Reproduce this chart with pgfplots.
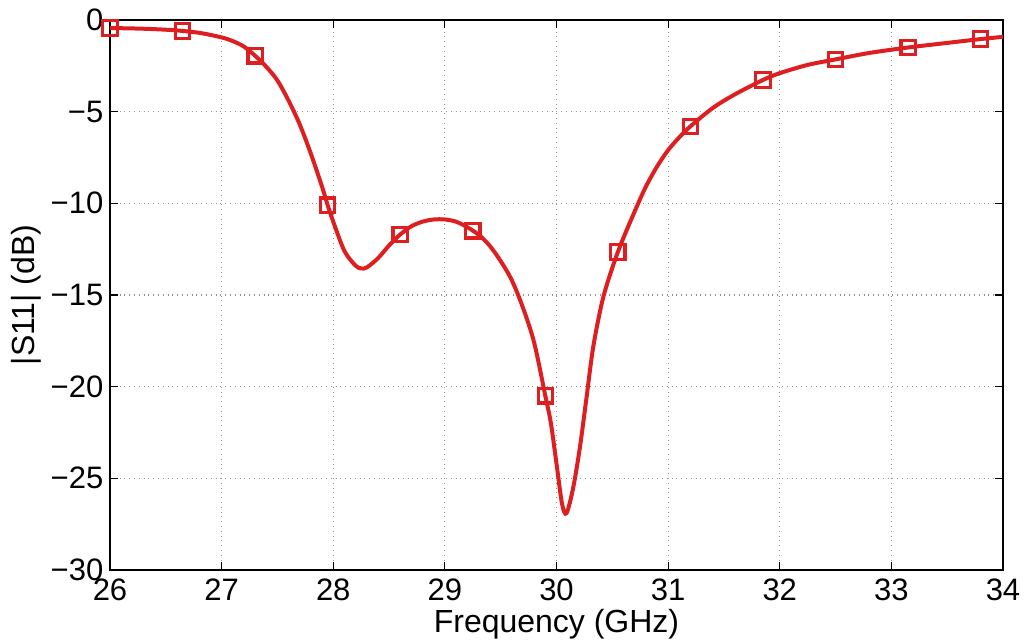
\documentclass[border=0pt]{standalone}
\usepackage{pgfplots}
\pgfplotsset{compat=1.18}
\usepackage{fontspec}
\setmainfont{Liberation Sans}
\definecolor{sred}{rgb}{0.87,0.12,0.13}
\begin{document}
\fontsize{15.5}{18}\selectfont
\begin{tikzpicture}
\path[use as bounding box] (-55pt,-35.5pt) rectangle (457pt,285pt);
\begin{axis}[
  scale only axis,
  width=446.5pt, height=275pt,
  xmin=26, xmax=34, ymin=-30, ymax=0,
  xtick={26,27,...,34}, ytick={-30,-25,...,0},
  yticklabels={−30,−25,−20,−15,−10,−5,0},
  tick align=inside,
  major tick length=4pt,
  grid=major,
  major grid style={dotted, gray!85, line width=0.6pt},
  axis line style={black, line width=0.6pt},
  every tick/.style={black, line width=0.6pt},
  /pgf/number format/assume math mode=true,
  ticklabel style={font=\fontsize{15.5}{18}\selectfont},
  xticklabel style={yshift=1pt},
  yticklabel style={xshift=2pt},
  xlabel={Frequency (GHz)},
  ylabel={|S11| (dB)},
  label style={font=\fontsize{16}{18}\selectfont},
  xlabel style={yshift=6pt},
  ylabel style={yshift=-6pt},
]
\addplot[sred, line width=2pt, smooth, tension=0.5] coordinates {
(26.0,-0.44) (26.2,-0.46) (26.4,-0.5) (26.6,-0.57) (26.8,-0.7) (27.0,-0.95)
(27.1,-1.15) (27.2,-1.45) (27.3,-1.95) (27.4,-2.55) (27.5,-3.3) (27.6,-4.4)
(27.7,-5.7) (27.8,-7.3) (27.9,-9.1) (27.95,-10.1) (28.0,-11.0) (28.1,-12.6)
(28.2,-13.4) (28.25,-13.55) (28.3,-13.5) (28.4,-13.0) (28.5,-12.3) (28.6,-11.7)
(28.7,-11.25) (28.8,-11.0) (28.9,-10.88) (29.0,-10.88) (29.1,-11.0) (29.2,-11.3)
(29.3,-11.7) (29.4,-12.3) (29.5,-13.15) (29.6,-14.2) (29.7,-15.7) (29.8,-17.6)
(29.9,-20.5) (29.95,-22.0) (30.0,-24.2) (30.05,-26.4) (30.09,-26.9) (30.15,-25.5)
(30.21,-23.3) (30.27,-20.55) (30.33,-17.8) (30.42,-15.1) (30.55,-12.65) (30.7,-10.45)
(30.8,-9.1) (30.9,-8.0) (31.0,-7.1) (31.1,-6.4) (31.2,-5.8) (31.4,-4.8)
(31.6,-4.05) (31.85,-3.27) (32.0,-2.9) (32.25,-2.45) (32.5,-2.15) (32.8,-1.8)
(33.15,-1.5) (33.5,-1.25) (33.8,-1.04) (34.0,-0.92)
};
\addplot[sred, only marks, mark=square, mark size=3.6pt, line width=1.6pt] coordinates {
(26.0,-0.44) (26.65,-0.6) (27.3,-1.95) (27.95,-10.1) (28.6,-11.7) (29.25,-11.5)
(29.9,-20.5) (30.55,-12.65) (31.2,-5.8) (31.85,-3.27) (32.5,-2.15) (33.15,-1.5) (33.8,-1.04)
};
\end{axis}
\end{tikzpicture}
\end{document}
